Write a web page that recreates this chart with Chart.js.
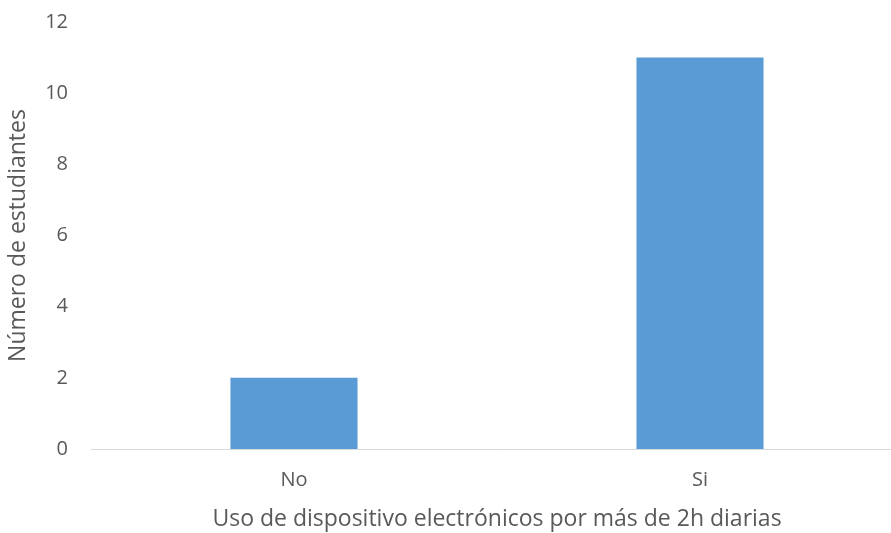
<!DOCTYPE html>
<html>
<head>
<meta charset="utf-8">
<script src="https://cdn.jsdelivr.net/npm/chart.js@4"></script>
<style>
  html, body { margin: 0; padding: 0; background: #fff; overflow: hidden; }
  #wrap { width: 903px; height: 533px; position: relative; }
</style>
</head>
<body>
<div id="wrap"><canvas id="myChart"></canvas></div>
<script>
const categories = ["No", "Si"];
const studentCounts = [2, 11];
const yTicks = [0, 2, 4, 6, 8, 10, 12];

const textColor = "#595959";
const ctx = document.getElementById("myChart").getContext("2d");

const chart = new Chart(ctx, {
    type: "bar",
    data: {
        labels: categories,
        datasets: [{
            label: "Número de estudiantes",
            data: studentCounts,
            backgroundColor: "#5B9BD5",
            borderWidth: 0,
            barPercentage: 0.313,
            categoryPercentage: 1
        }]
    },
    options: {
        responsive: true,
        maintainAspectRatio: false,
        animation: false,
        layout: { padding: { top: 22, right: 0, left: 0, bottom: 0 } },
        plugins: {
            legend: { display: false },
            tooltip: { enabled: false }
        },
        scales: {
            x: {
                grid: { display: false, drawTicks: true, tickLength: 8 },
                border: { display: true, color: "#d9d9d9", width: 1 },
                ticks: { color: textColor, font: { family: "Open Sans", size: 20 }, padding: 11 },
                title: {
                    display: true,
                    text: "Uso de dispositivo electrónicos por más de 2h diarias",
                    color: textColor,
                    font: { family: "Open Sans", size: 23 },
                    padding: { top: 4, bottom: 0 }
                },
                afterFit: (scale) => { scale.height = 84; }
            },
            y: {
                min: 0,
                max: 12,
                afterBuildTicks: (scale) => { scale.ticks = yTicks.map(v => ({ value: v })); },
                grid: { display: false, drawTicks: true, tickLength: 23 },
                border: { display: false },
                ticks: { color: textColor, font: { family: "Open Sans", size: 20 }, padding: 0 },
                title: {
                    display: true,
                    text: "Número de estudiantes",
                    color: textColor,
                    font: { family: "Open Sans", size: 23 },
                    padding: { top: 5, bottom: 0 }
                },
                afterFit: (scale) => { scale.width = 91; }
            }
        }
    }
});
</script>
</body>
</html>
